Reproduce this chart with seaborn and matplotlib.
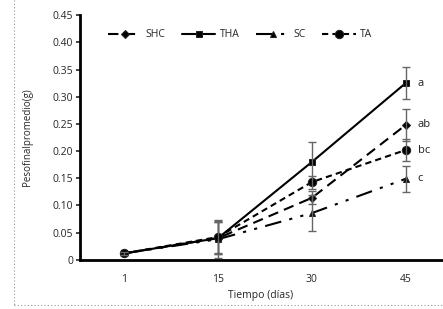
import matplotlib
matplotlib.use("Agg")
import matplotlib.pyplot as plt
from matplotlib.lines import Line2D
import pandas as pd
import seaborn as sns
import numpy as np

dias = ["1", "15", "30", "45"]
series = ["SHC", "THA", "SC", "TA"]
shc = [0.012, 0.040, 0.114, 0.248]
tha = [0.012, 0.040, 0.180, 0.325]
sc = [0.012, 0.038, 0.086, 0.149]
ta = [0.012, 0.042, 0.143, 0.202]
shc_err = [0.003, 0.030, 0.012, 0.030]
tha_err = [0.003, 0.030, 0.037, 0.030]
sc_err = [0.003, 0.035, 0.033, 0.024]
ta_err = [0.003, 0.030, 0.012, 0.020]
letras = ["ab", "a", "c", "bc"]

sns.set_style("white")
plt.rcParams['font.family'] = ['Open Sans', 'DejaVu Sans']

valores = {"SHC": shc, "THA": tha, "SC": sc, "TA": ta}
errores = {"SHC": shc_err, "THA": tha_err, "SC": sc_err, "TA": ta_err}
estilos = {
    "SHC": dict(marker="D", dashes=(5, 3), ms=4),
    "THA": dict(marker="s", dashes=None, ms=5),
    "SC": dict(marker="^", dashes=(8, 4, 1.5, 4, 1.5, 4), ms=5),
    "TA": dict(marker="o", dashes=(3, 2), ms=6),
}

fig = plt.figure(figsize=(4.43, 3.09), dpi=100)
ax = fig.add_axes([0.181, 0.159, 0.83, 0.792])

for s in series:
    df = pd.DataFrame({"dia": dias, "peso": valores[s]})
    st_ = estilos[s]
    sns.lineplot(data=df, x="dia", y="peso", ax=ax, color="black", lw=1.5,
                 marker=st_["marker"], markersize=st_["ms"], markeredgecolor="#222222",
                 label=s, sort=False)
    l = ax.lines[-1]
    if st_["dashes"] is not None:
        l.set_dashes(st_["dashes"])
    ax.errorbar(np.arange(len(dias)), valores[s], yerr=errores[s], fmt="none",
                ecolor="#666666", elinewidth=1, capsize=3, capthick=1)

for s, t in zip(series, letras):
    ax.text(3.13, valores[s][-1], t, fontsize=8, va="center", color="#222222")

ax.set_ylim(0, 0.45)
ax.set_xlim(-0.47, 3.45)
ax.set_yticks(np.arange(0, 0.451, 0.05))
ax.set_yticklabels(["0"] + [f"{v:.2f}" for v in np.arange(0.05, 0.451, 0.05)])
ax.tick_params(axis="y", direction="out", length=3, width=1.2, labelsize=7.5, pad=2, left=True)
ax.tick_params(axis="x", length=0, labelsize=7.5, pad=10)
for side in ["top", "right"]:
    ax.spines[side].set_visible(False)
for side in ["left", "bottom"]:
    ax.spines[side].set_linewidth(2)
    ax.spines[side].set_color("black")
ax.set_xlabel("Tiempo (días)", fontsize=7.5, labelpad=4, x=0.49)
ax.set_ylabel("Pesofinalpromedio(g)", fontsize=7, labelpad=14)

ax.legend(loc="upper left", bbox_to_anchor=(0.05, 0.98), ncol=4, frameon=False,
          fontsize=7.5, handlelength=3.2, columnspacing=1.6, handletextpad=0.4)

# marco punteado de la hoja
fig.add_artist(Line2D([14 / 443, 14 / 443], [1, 4 / 309], transform=fig.transFigure,
                      color="#999999", lw=0.8, ls=(0, (1, 2))))
fig.add_artist(Line2D([14 / 443, 1], [4 / 309, 4 / 309], transform=fig.transFigure,
                      color="#999999", lw=0.8, ls=(0, (1, 2))))

fig.savefig("out.png", dpi=100)
